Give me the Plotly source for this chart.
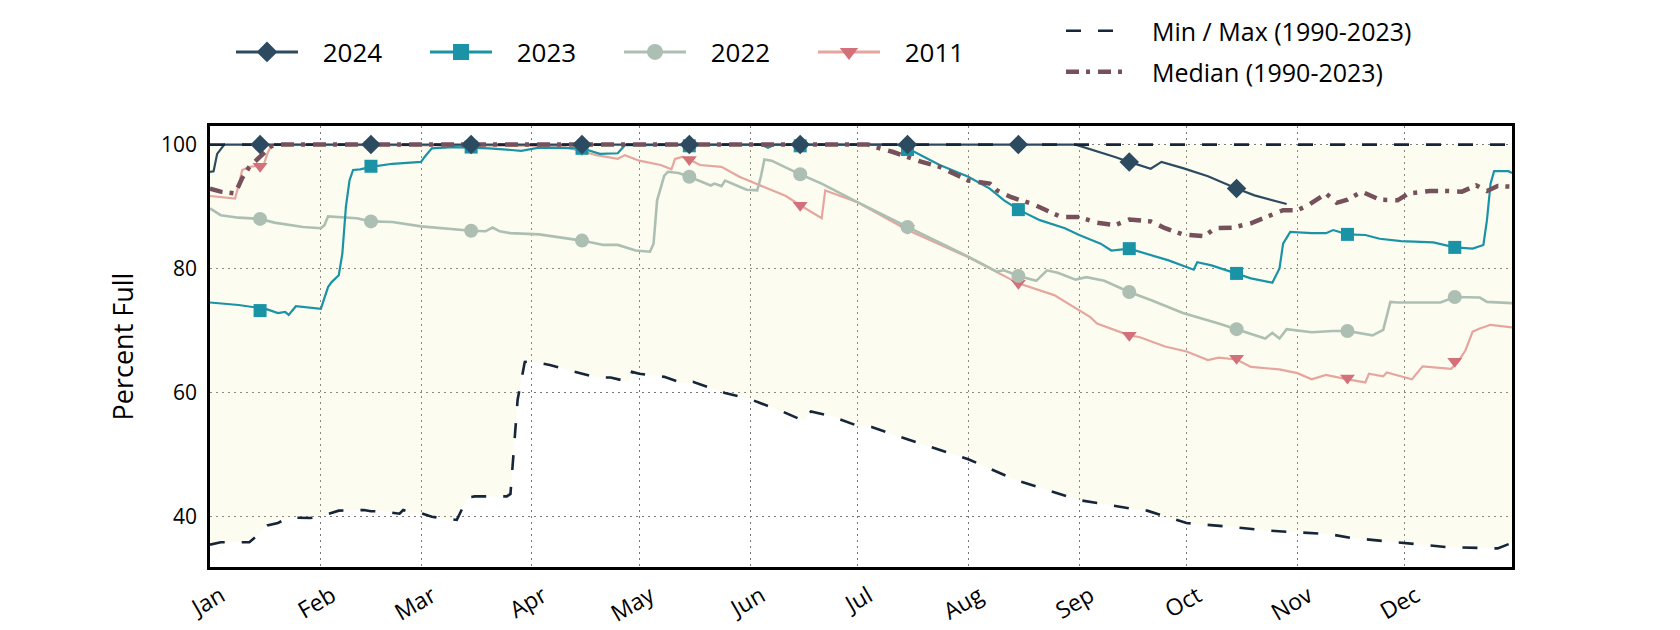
import pandas as pd
import plotly.graph_objects as go

# ---------------- data (x = day of year, 0 = Jan 1) ----------------
month_labels = ["Jan", "Feb", "Mar", "Apr", "May", "Jun", "Jul", "Aug", "Sep", "Oct", "Nov", "Dec"]
month_start_days = [0, 31, 59, 90, 120, 151, 181, 212, 243, 273, 304, 334]
marker_days = [14, 45, 73, 104, 134, 165, 195, 226, 257, 287, 318, 348]  # 15th of each month

min_days = [0, 3, 11, 13, 16, 19, 22, 28, 31, 36, 43, 45, 48, 53, 54, 56, 59, 62, 69, 72, 74, 83, 84, 86, 88,
            90, 95, 108, 112, 117, 118, 120, 127, 132, 135, 144, 151, 160, 166, 168, 174, 181, 185, 193, 212,
            225, 243, 249, 257, 260, 262, 273, 287, 295, 304, 313, 319, 334, 346, 360, 364]
min_vals = [35.4, 35.8, 35.8, 36.8, 38.5, 38.9, 39.8, 39.7, 40.0, 40.9, 41.0, 40.8, 40.8, 40.4, 41.0, 40.6,
            40.5, 39.9, 39.4, 43.0, 43.2, 43.2, 43.6, 58.8, 64.9, 65.0, 64.4, 62.4, 62.4, 61.7, 63.3, 63.0,
            62.5, 61.5, 61.7, 59.9, 58.9, 56.9, 55.4, 56.9, 56.1, 54.6, 54.4, 52.8, 49.2, 45.9, 42.6, 42.0,
            41.2, 41.0, 40.9, 38.9, 38.2, 37.7, 37.4, 37.1, 36.5, 35.6, 35.0, 34.8, 35.7]

max_days = [0, 364]
max_vals = [100.0, 100.0]

median_days = [0, 3, 7, 9, 11, 15, 17, 19, 184, 186, 191, 199, 204, 212, 218, 220, 224, 230, 238, 243, 248,
               253, 257, 263, 267, 272, 278, 281, 286, 291, 293, 297, 300, 304, 307, 312, 315, 318, 322, 327,
               332, 335, 341, 346, 350, 354, 357, 360, 364]
median_vals = [92.9, 92.4, 92.1, 94.6, 96.4, 98.5, 99.7, 100.0, 100.0, 99.6, 98.8, 97.2, 96.4, 94.2, 93.7,
               92.6, 91.5, 90.4, 88.3, 88.3, 87.4, 87.0, 87.9, 87.6, 86.5, 85.5, 85.2, 86.5, 86.6, 87.3, 87.8,
               88.6, 89.4, 89.4, 90.2, 92.1, 90.6, 91.1, 92.4, 91.1, 91.0, 92.1, 92.5, 92.5, 92.4, 93.4, 92.5,
               93.3, 93.2]

y2024_days = [0, 1, 2, 4, 242, 249, 253, 257, 263, 266, 272, 279, 287, 292, 301]
y2024_vals = [95.6, 95.7, 98.5, 100.0, 100.0, 98.8, 98.0, 97.2, 96.1, 97.2, 96.2, 94.9, 92.9, 91.8, 90.4]
y2024_marks = [100, 100, 100, 100, 100, 100, 100, 100, 97.2, 92.9]

y2023_days = [0, 8, 14, 16, 19, 21, 22, 24, 31, 33, 34, 36, 37, 38, 39, 40, 42, 45, 51, 59, 60, 62, 68, 78,
              87, 92, 104, 109, 114, 116, 154, 156, 158, 192, 195, 197, 204, 212, 218, 222, 226, 232, 239,
              243, 249, 252, 257, 263, 268, 275, 276, 280, 287, 291, 297, 299, 300, 302, 308, 312, 314, 318,
              323, 327, 333, 342, 348, 353, 356, 357, 358, 359, 363, 364]
y2023_vals = [74.5, 74.1, 73.6, 73.4, 72.8, 73.0, 72.5, 73.9, 73.5, 77.0, 77.8, 78.9, 82.4, 90.0, 94.2, 95.9,
              96.0, 96.4, 96.9, 97.2, 98.0, 99.4, 99.6, 99.4, 99.0, 99.5, 99.4, 98.5, 98.6, 99.9, 100.0, 99.5,
              100.0, 100.0, 99.3, 98.8, 96.7, 94.8, 92.9, 91.0, 89.5, 87.8, 86.5, 85.4, 84.0, 82.9, 83.2,
              82.1, 81.3, 79.8, 81.0, 80.5, 79.2, 78.4, 77.7, 80.0, 84.0, 85.9, 85.7, 85.7, 86.2, 85.5, 85.4,
              84.8, 84.4, 84.2, 83.4, 83.2, 83.8, 87.8, 93.7, 95.7, 95.7, 95.4]
y2023_marks = [73.2, 96.5, 99.6, 99.4, 99.8, 99.8, 99.2, 89.5, 83.2, 79.2, 85.5, 83.4]

y2022_days = [0, 3, 8, 14, 18, 26, 31, 32, 33, 38, 41, 45, 51, 59, 68, 73, 77, 79, 81, 84, 92, 98, 104, 110,
              114, 119, 123, 124, 125, 127, 128, 131, 134, 140, 141, 143, 144, 150, 153, 154, 155, 157, 165,
              171, 181, 195, 212, 220, 222, 226, 231, 234, 237, 242, 245, 250, 257, 263, 272, 282, 287, 295,
              297, 299, 301, 308, 314, 318, 325, 328, 330, 332, 344, 348, 355, 357, 364]
y2022_vals = [89.7, 88.6, 88.2, 88.0, 87.4, 86.7, 86.5, 87.0, 88.4, 88.2, 88.1, 87.6, 87.5, 86.8, 86.3, 86.1,
              86.0, 86.6, 86.0, 85.7, 85.5, 85.0, 84.5, 83.8, 83.8, 82.9, 82.7, 84.0, 91.0, 95.0, 95.6, 95.4,
              94.8, 93.4, 93.7, 93.3, 94.2, 92.7, 92.6, 94.8, 97.6, 97.4, 95.2, 93.7, 90.7, 86.7, 81.9, 79.5,
              79.7, 78.8, 78.0, 79.7, 79.3, 78.2, 78.6, 78.0, 76.2, 74.9, 72.8, 71.1, 70.2, 68.7, 69.6, 68.7,
              70.2, 69.7, 69.9, 69.9, 69.2, 70.1, 74.6, 74.5, 74.5, 75.4, 75.3, 74.6, 74.4]
y2022_marks = [88.0, 87.6, 86.1, 84.5, 94.8, 95.2, 86.7, 78.8, 76.2, 70.2, 69.9, 75.4]

y2011_days = [0, 7, 8, 9, 11, 15, 16, 17, 18, 98, 106, 108, 114, 116, 120, 126, 129, 130, 132, 134, 137, 143,
              148, 155, 161, 165, 171, 172, 181, 195, 212, 226, 236, 246, 248, 257, 260, 267, 273, 279, 282,
              287, 291, 299, 304, 308, 312, 318, 323, 324, 328, 329, 334, 336, 339, 347, 349, 351, 353, 355,
              358, 364]
y2011_vals = [91.7, 91.3, 93.4, 95.9, 96.4, 96.7, 98.5, 99.7, 100.0, 99.8, 98.6, 98.3, 97.7, 98.3, 97.4,
              96.7, 96.0, 97.7, 98.0, 97.6, 96.7, 96.4, 94.8, 93.2, 91.7, 90.2, 88.1, 92.6, 90.7, 86.2, 81.8,
              77.6, 75.7, 72.2, 71.1, 69.2, 68.9, 67.4, 66.6, 65.2, 65.6, 65.3, 64.1, 63.7, 63.1, 62.1, 62.8,
              62.1, 61.6, 63.0, 62.6, 63.2, 62.4, 62.1, 64.2, 63.8, 65.0, 66.8, 69.8, 70.3, 70.9, 70.5]
y2011_marks = [96.5, 100, 100, 99.2, 97.6, 90.2, 86.5, 77.6, 69.2, 65.5, 62.3, 65.0]

y_ticks = [40, 60, 80, 100]

# ---------------- styling ----------------
BASE = pd.Timestamp("2023-01-01")


def dates(days):
    return [BASE + pd.Timedelta(days=d) for d in days]


C2024, C2023, C2022 = "#2c4a60", "#1a93a6", "#adbfb3"
C2011_LINE, C2011_MARK = "#e6a59d", "#d4707a"
CMINMAX, CMED = "#16253a", "#76505a"
CFILL = "rgba(236, 236, 170, 0.17)"
SANS = "Open Sans, Lato, sans-serif"
PAD = "\u2002\u00a0"  # gap between legend handle and its text

fig = go.Figure()

# fill between min and max (translucent so the grid shows through)
fig.add_trace(go.Scatter(x=dates(min_days), y=min_vals, mode="lines", line=dict(width=0),
                         showlegend=False, hoverinfo="skip"))
fig.add_trace(go.Scatter(x=dates(max_days), y=max_vals, mode="lines", line=dict(width=0),
                         fill="tonexty", fillcolor=CFILL, showlegend=False, hoverinfo="skip"))

years = [
    ("2011", y2011_days, y2011_vals, y2011_marks, C2011_LINE, C2011_MARK, "triangle-down", 13, 2.2),
    ("2022", y2022_days, y2022_vals, y2022_marks, C2022, C2022, "circle", 14, 2.6),
    ("2023", y2023_days, y2023_vals, y2023_marks, C2023, C2023, "square", 13, 2.2),
    ("2024", y2024_days, y2024_vals, y2024_marks, C2024, C2024, "diamond", 15, 2.2),
]

for name, d, v, m, lc, mc, sym, ms, lw in years:
    fig.add_trace(go.Scatter(x=dates(d), y=v, mode="lines", line=dict(color=lc, width=lw),
                             showlegend=False, name=name))

# min / max and median
MINMAX_DASH = "15px,17px"
fig.add_trace(go.Scatter(x=dates(min_days), y=min_vals, mode="lines", name=PAD + "Min / Max (1990-2023)",
                         line=dict(color=CMINMAX, width=2.6, dash=MINMAX_DASH), legend="legend2"))
fig.add_trace(go.Scatter(x=dates(max_days), y=max_vals, mode="lines", showlegend=False,
                         line=dict(color=CMINMAX, width=2.6, dash=MINMAX_DASH)))
fig.add_trace(go.Scatter(x=dates(median_days), y=median_vals, mode="lines", name=PAD + "Median (1990-2023)",
                         line=dict(color=CMED, width=4.5, dash="13px,7px,4px,8px"), legend="legend3"))

for name, d, v, m, lc, mc, sym, ms, lw in years:
    fig.add_trace(go.Scatter(x=dates(marker_days[:len(m)]), y=m, mode="markers", showlegend=False,
                             marker=dict(symbol=sym, size=ms, color=mc, line=dict(width=0))))

# legend entries (ordered 2024, 2023, 2022, 2011)
for name, d, v, m, lc, mc, sym, ms, lw in reversed(years):
    fig.add_trace(go.Scatter(x=[None], y=[None], mode="lines+markers", name=PAD + name, legend="legend",
                             line=dict(color=lc, width=3), marker=dict(symbol=sym, size=ms + 3, color=mc)))

grid = dict(showgrid=True, gridcolor="#777777", griddash="2px,4px", gridwidth=1,
            showline=True, linecolor="black", linewidth=2.5, mirror=True, zeroline=False, ticks="")

fig.update_layout(
    width=1680, height=630,
    margin=dict(l=210, r=168, t=126, b=63, autoexpand=False),
    plot_bgcolor="white", paper_bgcolor="white",
    font=dict(family=SANS, color="black"),
    xaxis=dict(type="date", range=[BASE, BASE + pd.Timedelta(days=364)],
               tickvals=dates(month_start_days), ticktext=month_labels, tickangle=-30,
               ticklabelshift=11, ticklabelstandoff=4,
               tickfont=dict(size=23, family=SANS), **grid),
    yaxis=dict(range=[31.8, 103], tickvals=y_ticks, tickfont=dict(size=21, family=SANS),
               ticklabelstandoff=6,
               title=dict(text="Percent Full", font=dict(size=27, family=SANS), standoff=20), **grid),
    legend=dict(orientation="h", xref="container", yref="container", x=231 / 1680, y=1 - 52 / 630,
                xanchor="left", yanchor="middle", entrywidth=117, itemwidth=62, traceorder="normal",
                font=dict(size=26, family=SANS), bgcolor="rgba(0,0,0,0)"),
    legend2=dict(xref="container", yref="container", x=1061 / 1680, y=1 - 31 / 630,
                 xanchor="left", yanchor="middle", itemwidth=62, font=dict(size=25, family=SANS),
                 bgcolor="rgba(0,0,0,0)"),
    legend3=dict(xref="container", yref="container", x=1061 / 1680, y=1 - 72 / 630,
                 xanchor="left", yanchor="middle", itemwidth=62, font=dict(size=25, family=SANS),
                 bgcolor="rgba(0,0,0,0)"),
    showlegend=True,
)

fig.write_html("out.html")
